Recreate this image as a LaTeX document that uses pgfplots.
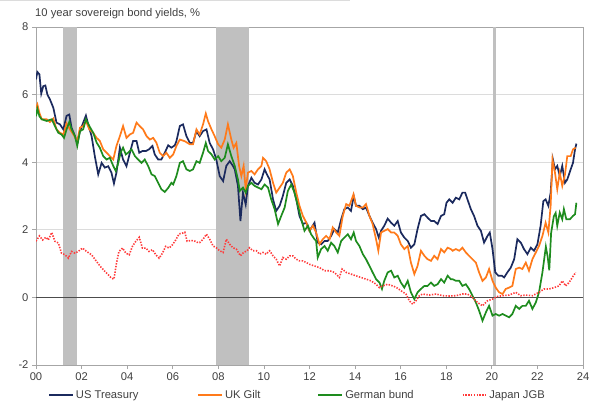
\documentclass[border=0pt]{standalone}
\usepackage{pgfplots}
\pgfplotsset{compat=1.18}
\usepackage{fontspec}
\setmainfont{Liberation Sans}
\definecolor{ustc}{HTML}{1B2A5E}
\definecolor{ukc}{HTML}{FF7A1A}
\definecolor{dec}{HTML}{1E8C1E}
\definecolor{jpc}{HTML}{FF3B3B}
\definecolor{recc}{HTML}{C0C0C0}
\definecolor{gridc}{HTML}{DCDCDC}
\definecolor{axc}{HTML}{A6A6A6}
\definecolor{txtc}{HTML}{404040}
\begin{document}
\begin{tikzpicture}
\useasboundingbox (0pt,0pt) rectangle (596pt,418pt);
\draw[gridc, line width=1pt] (0pt,417.3pt) -- (350pt,417.3pt);
\node[anchor=base west, text=txtc, font=\fontsize{11.2}{13}\selectfont, inner sep=0pt] at (35pt,401pt) {10 year sovereign bond yields, \%};
\begin{axis}[
  at={(36pt,53pt)}, anchor=south west,
  scale only axis, width=547pt, height=338pt,
  xmin=0, xmax=24, ymin=-2, ymax=8,
  xtick={0,2,...,24},
  xticklabels={00,02,04,06,08,10,12,14,16,18,20,22,24},
  ytick={-2,0,2,4,6,8},
  ymajorgrids, grid style={gridc, line width=1pt},
  axis line style={axc, line width=0.9pt},
  tick style={axc, line width=0.8pt},
  tick align=outside, major tick length=4pt,
  xtick pos=bottom, ytick pos=left,
  /pgf/number format/assume math mode=true,
  ticklabel style={font=\fontsize{11.2}{13}\selectfont, text=txtc},
  legend columns=4,
  legend style={draw=none, fill=none, inner sep=0pt,
    at={(axis description cs:0.022,-0.089)}, anchor=west,
    font=\fontsize{11.2}{13}\selectfont, text=txtc,
    /tikz/column 2/.style={column sep=57pt},
    /tikz/column 4/.style={column sep=55pt},
    /tikz/column 6/.style={column sep=46pt}},
  legend image code/.code={\draw[#1] (0pt,0pt) -- (24pt,0pt);},
]
% recession bands
\addplot[draw=none, fill=recc, forget plot] coordinates {(1.17,-2)(1.17,8)(1.81,8)(1.81,-2)} -- cycle;
\addplot[draw=none, fill=recc, forget plot] coordinates {(7.9,-2)(7.9,8)(9.36,8)(9.36,-2)} -- cycle;
\addplot[draw=none, fill=recc, forget plot] coordinates {(20.07,-2)(20.07,8)(20.18,8)(20.18,-2)} -- cycle;
% zero line
\addplot[black!70, line width=0.9pt, forget plot] coordinates {(0,0)(24,0)};
% US Treasury
\addplot[ustc, line width=1.7pt] coordinates {
(0,6.45)(0.06,6.67)(0.15,6.6)(0.23,6.03)(0.32,6.25)(0.41,6.27)(0.5,6.0)(0.61,5.86)(0.76,5.61)(0.9,5.17)(1.05,5.12)(1.2,4.97)(1.34,5.37)(1.46,5.41)(1.56,5.02)(1.71,4.77)(1.81,4.56)(1.93,4.92)(2.19,5.38)(2.29,5.12)(2.44,4.77)(2.58,4.18)(2.73,3.64)(2.88,3.98)(3.02,3.84)(3.17,3.88)(3.31,3.69)(3.42,3.37)(3.53,3.69)(3.68,4.43)(3.82,4.08)(3.97,3.88)(4.12,4.28)(4.26,4.63)(4.41,4.63)(4.53,4.28)(4.67,4.33)(4.82,4.33)(4.96,4.38)(5.11,4.48)(5.21,4.23)(5.36,4.08)(5.5,4.08)(5.65,4.28)(5.8,4.5)(5.94,4.43)(6.09,4.5)(6.16,4.62)(6.31,5.07)(6.45,5.12)(6.6,4.77)(6.75,4.57)(6.89,4.57)(7.04,4.92)(7.18,4.77)(7.33,4.92)(7.48,4.97)(7.62,4.57)(7.77,4.38)(7.91,4.08)(8.06,3.59)(8.21,3.44)(8.35,3.89)(8.5,4.03)(8.64,3.89)(8.72,3.79)(8.86,3.3)(8.97,2.26)(9.08,3.1)(9.2,2.75)(9.3,3.3)(9.45,3.54)(9.59,3.39)(9.74,3.34)(9.89,3.49)(10.03,3.79)(10.13,3.64)(10.25,3.49)(10.4,2.9)(10.54,2.56)(10.69,2.71)(10.83,3.0)(10.98,3.39)(11.13,3.49)(11.27,3.3)(11.42,2.9)(11.56,2.41)(11.71,2.17)(11.86,2.21)(12.0,1.97)(12.22,2.21)(12.36,1.62)(12.51,1.57)(12.66,1.67)(12.8,1.67)(12.95,1.82)(13.09,2.02)(13.24,1.92)(13.39,2.31)(13.53,2.61)(13.68,2.66)(13.82,2.56)(13.94,3.0)(14.04,2.71)(14.19,2.71)(14.34,2.61)(14.48,2.66)(14.63,2.41)(14.77,2.21)(14.92,2.02)(15.04,1.77)(15.14,1.97)(15.28,2.12)(15.43,2.33)(15.58,2.21)(15.72,2.12)(15.87,2.26)(16.01,1.92)(16.16,1.77)(16.31,1.67)(16.45,1.47)(16.6,1.57)(16.74,2.02)(16.89,2.41)(17.04,2.46)(17.18,2.36)(17.33,2.26)(17.47,2.26)(17.62,2.17)(17.77,2.41)(17.91,2.46)(18.01,2.8)(18.13,2.9)(18.28,2.8)(18.42,2.95)(18.57,2.9)(18.71,3.1)(18.83,3.1)(18.93,2.9)(19.08,2.61)(19.22,2.41)(19.37,2.12)(19.52,1.97)(19.66,1.62)(19.81,1.82)(19.91,1.92)(20.03,1.43)(20.15,0.74)(20.29,0.64)(20.44,0.64)(20.54,0.59)(20.68,0.74)(20.83,0.88)(20.98,1.13)(21.12,1.72)(21.27,1.62)(21.41,1.43)(21.56,1.28)(21.71,1.47)(21.85,1.38)(22.0,1.57)(22.14,2.12)(22.26,2.85)(22.36,2.9)(22.48,2.71)(22.58,3.1)(22.68,4.08)(22.77,3.79)(22.87,3.89)(22.98,3.59)(23.09,3.89)(23.21,3.39)(23.31,3.49)(23.46,3.79)(23.56,3.98)(23.65,4.38)(23.71,4.55)
};
\addlegendentry{US Treasury}
% UK Gilt
\addplot[ukc, line width=1.7pt] coordinates {
(0,5.61)(0.06,5.71)(0.15,5.46)(0.25,5.27)(0.47,5.27)(0.61,5.19)(0.76,5.29)(0.9,4.97)(1.05,4.87)(1.2,4.82)(1.34,5.15)(1.49,4.97)(1.64,4.82)(1.81,4.63)(1.93,5.02)(2.07,5.07)(2.19,5.22)(2.34,4.97)(2.51,4.87)(2.66,4.72)(2.8,4.63)(2.95,4.38)(3.1,4.28)(3.24,4.18)(3.39,4.08)(3.53,4.48)(3.68,4.77)(3.82,5.07)(3.97,4.72)(4.12,4.82)(4.26,4.87)(4.41,5.17)(4.55,5.07)(4.7,4.97)(4.85,4.77)(5.0,4.67)(5.14,4.72)(5.28,4.58)(5.43,4.28)(5.58,4.18)(5.72,4.28)(5.87,4.13)(6.02,4.23)(6.16,4.48)(6.31,4.67)(6.53,4.62)(6.75,4.53)(6.89,4.53)(7.04,4.97)(7.18,4.82)(7.33,5.12)(7.45,5.44)(7.55,5.21)(7.7,4.97)(7.84,4.77)(7.99,4.53)(8.13,4.43)(8.28,4.67)(8.42,5.12)(8.57,4.67)(8.67,4.43)(8.79,4.57)(8.91,3.89)(9.01,3.59)(9.11,3.89)(9.2,3.2)(9.3,3.69)(9.45,3.74)(9.59,3.64)(9.74,3.79)(9.89,3.89)(9.96,4.13)(10.1,4.03)(10.25,3.79)(10.4,3.39)(10.54,3.1)(10.69,3.25)(10.83,3.39)(10.98,3.69)(11.13,3.79)(11.27,3.59)(11.42,3.1)(11.56,2.71)(11.71,2.41)(11.86,2.21)(12.0,1.97)(12.15,2.12)(12.29,1.92)(12.44,1.57)(12.58,1.72)(12.73,1.82)(12.88,1.72)(13.02,2.07)(13.17,1.92)(13.31,1.82)(13.46,2.41)(13.61,2.76)(13.75,2.71)(13.93,3.05)(14.04,2.71)(14.19,2.66)(14.34,2.66)(14.48,2.76)(14.63,2.41)(14.77,2.17)(14.92,1.72)(15.02,1.38)(15.14,1.92)(15.28,1.97)(15.43,2.02)(15.58,1.92)(15.72,1.92)(15.87,1.82)(16.01,1.57)(16.16,1.43)(16.31,1.52)(16.45,1.03)(16.6,0.69)(16.74,0.93)(16.89,1.38)(17.04,1.23)(17.18,1.13)(17.33,1.08)(17.47,1.23)(17.62,1.13)(17.77,1.43)(17.91,1.33)(18.06,1.47)(18.2,1.43)(18.28,1.38)(18.42,1.43)(18.57,1.38)(18.71,1.47)(18.86,1.33)(19.0,1.23)(19.15,1.13)(19.3,1.03)(19.44,0.74)(19.59,0.49)(19.74,0.59)(19.88,0.84)(20.03,0.49)(20.17,0.29)(20.32,0.15)(20.47,0.1)(20.61,0.25)(20.76,0.29)(20.9,0.34)(21.05,0.84)(21.2,0.88)(21.34,0.84)(21.49,1.03)(21.63,0.79)(21.78,1.13)(21.93,1.33)(22.07,1.52)(22.22,1.82)(22.36,2.21)(22.48,1.92)(22.58,2.71)(22.66,4.08)(22.77,3.69)(22.87,3.2)(22.98,3.69)(23.09,3.3)(23.21,3.64)(23.31,4.18)(23.46,4.18)(23.56,4.38)(23.68,4.43)
};
\addlegendentry{UK Gilt}
% German bund
\addplot[dec, line width=1.7pt] coordinates {
(0,5.36)(0.06,5.58)(0.15,5.36)(0.25,5.27)(0.47,5.22)(0.69,5.27)(0.83,5.07)(0.98,4.87)(1.12,4.82)(1.23,4.72)(1.34,4.97)(1.46,5.19)(1.56,4.97)(1.71,4.77)(1.81,4.48)(1.93,4.92)(2.07,4.97)(2.19,5.27)(2.34,5.07)(2.51,4.87)(2.66,4.58)(2.8,4.43)(2.95,4.18)(3.1,4.08)(3.24,4.13)(3.39,3.89)(3.5,3.74)(3.61,3.98)(3.71,4.28)(3.82,4.43)(3.94,4.23)(4.04,4.28)(4.19,4.38)(4.34,4.18)(4.48,4.08)(4.63,3.98)(4.77,4.08)(4.92,3.89)(5.07,3.64)(5.21,3.59)(5.36,3.39)(5.5,3.2)(5.65,3.12)(5.8,3.24)(5.94,3.39)(6.02,3.34)(6.16,3.59)(6.31,3.98)(6.45,4.03)(6.6,3.79)(6.75,3.74)(6.89,3.79)(7.04,4.03)(7.18,3.98)(7.33,4.28)(7.45,4.57)(7.55,4.33)(7.7,4.23)(7.84,4.08)(7.99,4.18)(8.13,4.03)(8.28,4.13)(8.42,4.53)(8.57,4.18)(8.72,3.89)(8.86,3.49)(8.94,3.15)(9.08,3.25)(9.2,3.1)(9.3,3.3)(9.45,3.39)(9.59,3.3)(9.74,3.25)(9.89,3.2)(10.03,3.34)(10.18,3.25)(10.32,2.9)(10.47,2.61)(10.62,2.17)(10.76,2.41)(10.91,2.66)(11.05,3.15)(11.2,3.34)(11.34,3.1)(11.49,2.71)(11.64,2.31)(11.78,1.97)(11.93,2.12)(12.07,1.87)(12.22,1.72)(12.29,1.67)(12.36,1.18)(12.51,1.43)(12.66,1.52)(12.8,1.38)(12.95,1.62)(13.09,1.52)(13.24,1.33)(13.39,1.67)(13.53,1.77)(13.68,1.87)(13.82,1.72)(13.94,1.92)(14.04,1.67)(14.19,1.52)(14.34,1.28)(14.48,1.13)(14.63,0.93)(14.77,0.74)(14.92,0.54)(15.07,0.44)(15.18,0.25)(15.28,0.49)(15.43,0.74)(15.58,0.79)(15.72,0.59)(15.87,0.64)(16.01,0.44)(16.16,0.29)(16.31,0.49)(16.45,0.15)(16.6,-0.05)(16.74,0.15)(16.89,0.25)(17.04,0.34)(17.18,0.34)(17.33,0.44)(17.47,0.34)(17.62,0.39)(17.77,0.54)(17.91,0.44)(18.06,0.64)(18.2,0.54)(18.28,0.54)(18.42,0.49)(18.57,0.49)(18.71,0.34)(18.86,0.39)(19.0,0.25)(19.15,0.05)(19.3,-0.15)(19.44,-0.39)(19.59,-0.69)(19.74,-0.44)(19.88,-0.25)(20.03,-0.54)(20.17,-0.49)(20.32,-0.54)(20.47,-0.49)(20.61,-0.54)(20.76,-0.59)(20.9,-0.49)(21.05,-0.25)(21.2,-0.34)(21.34,-0.25)(21.49,-0.25)(21.63,-0.1)(21.78,-0.34)(21.93,-0.15)(22.07,0.15)(22.22,0.74)(22.37,1.5)(22.45,1.2)(22.52,0.8)(22.6,1.9)(22.72,2.4)(22.8,2.5)(22.87,2.12)(22.98,2.51)(23.09,2.31)(23.16,2.61)(23.27,2.31)(23.42,2.31)(23.56,2.41)(23.65,2.46)(23.71,2.8)
};
\addlegendentry{German bund}
% Japan JGB
\addplot[jpc, line width=1.6pt, dash pattern=on 1.4pt off 1.4pt] coordinates {
(0,1.66)(0.15,1.82)(0.29,1.7)(0.44,1.78)(0.54,1.7)(0.69,1.92)(0.83,1.66)(0.98,1.61)(1.12,1.31)(1.27,1.26)(1.42,1.16)(1.56,1.36)(1.71,1.31)(1.85,1.36)(2.04,1.46)(2.22,1.36)(2.44,1.26)(2.66,1.06)(2.88,0.87)(3.1,0.72)(3.31,0.57)(3.42,0.54)(3.53,1.01)(3.64,1.36)(3.8,1.46)(3.94,1.31)(4.09,1.26)(4.23,1.51)(4.38,1.66)(4.53,1.78)(4.67,1.46)(4.82,1.46)(4.96,1.36)(5.11,1.41)(5.26,1.26)(5.4,1.16)(5.55,1.31)(5.69,1.51)(5.84,1.46)(5.99,1.56)(6.13,1.7)(6.28,1.88)(6.42,1.9)(6.53,1.93)(6.63,1.66)(6.77,1.68)(6.92,1.68)(7.07,1.63)(7.18,1.62)(7.33,1.72)(7.48,1.87)(7.62,1.72)(7.77,1.52)(7.91,1.47)(8.06,1.38)(8.21,1.33)(8.35,1.72)(8.5,1.57)(8.64,1.47)(8.79,1.43)(8.97,1.23)(9.11,1.33)(9.26,1.38)(9.37,1.47)(9.52,1.38)(9.67,1.38)(9.81,1.28)(9.96,1.33)(10.1,1.28)(10.25,1.38)(10.4,1.23)(10.54,1.13)(10.69,0.93)(10.83,1.18)(10.98,1.13)(11.13,1.23)(11.27,1.23)(11.42,1.13)(11.56,1.08)(11.71,1.08)(11.86,1.03)(12.0,0.98)(12.22,0.93)(12.44,0.88)(12.66,0.79)(12.88,0.79)(13.09,0.74)(13.31,0.59)(13.43,0.84)(13.61,0.74)(13.82,0.69)(14.04,0.64)(14.26,0.59)(14.48,0.54)(14.7,0.49)(14.92,0.39)(15.07,0.29)(15.21,0.34)(15.43,0.39)(15.65,0.34)(15.82,0.29)(16.01,0.2)(16.23,0.1)(16.38,-0.1)(16.53,-0.2)(16.67,-0.1)(16.82,0.05)(16.96,0.1)(17.26,0.07)(17.55,0.1)(17.84,0.05)(18.13,0.04)(18.42,0.05)(18.71,0.1)(18.93,0.1)(19.15,0.0)(19.37,-0.15)(19.59,-0.25)(19.81,-0.1)(20.03,-0.05)(20.25,0.03)(20.47,0.05)(20.76,0.07)(21.05,0.15)(21.27,0.05)(21.49,0.07)(21.78,0.05)(22.07,0.15)(22.29,0.25)(22.51,0.25)(22.73,0.29)(22.95,0.34)(23.09,0.49)(23.24,0.34)(23.39,0.44)(23.53,0.59)(23.68,0.74)
};
\addlegendentry{Japan JGB}
\end{axis}
\end{tikzpicture}
\end{document}
